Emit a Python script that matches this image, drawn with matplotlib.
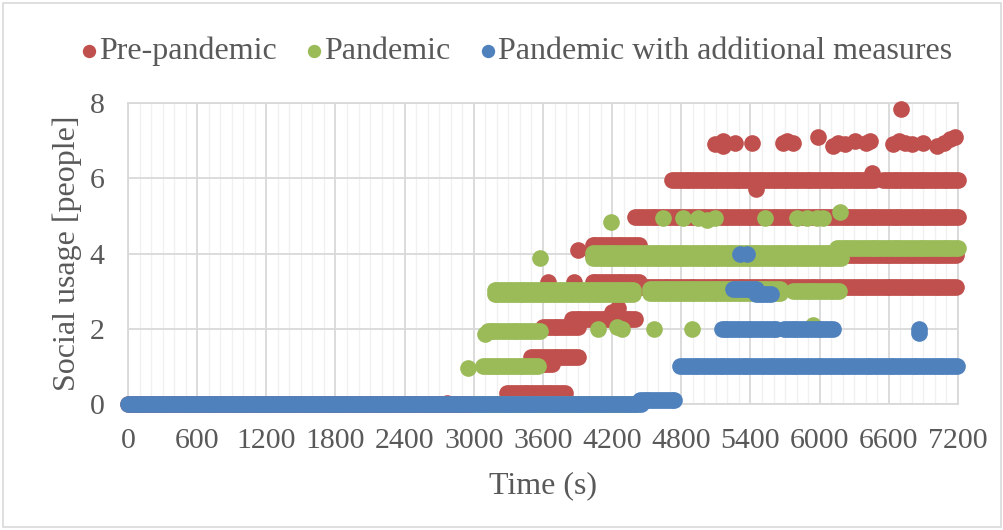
import numpy as np
import matplotlib
matplotlib.use("Agg")
import matplotlib.pyplot as plt
from matplotlib.patches import Rectangle

# ---------------- data ----------------
series_names = ["Pre-pandemic", "Pandemic", "Pandemic with additional measures"]
series_colors = ["#C0504D", "#9BBB59", "#4F81BD"]

# continuous runs of observations: start time, end time, value
pre_run_start = [0, 3290, 3480, 3500, 3600, 3850, 4030, 4030, 4030, 4030, 4400, 4720, 6550]
pre_run_end   = [4400, 3800, 3700, 3900, 3900, 4400, 4450, 7200, 7200, 4450, 7200, 6480, 7200]
pre_run_value = [0.0, 0.3, 1.05, 1.25, 2.05, 2.25, 3.25, 3.1, 3.97, 4.22, 4.97, 5.95, 5.95]
# isolated observations
pre_pt_time  = [2770, 3640, 3870, 3900, 4200, 4250, 5450, 6450,
                5090, 5160, 5160, 5265, 5415, 5680, 5720, 5770, 5985, 6115, 6160,
                6220, 6306, 6400, 6436, 6636, 6690, 6740, 6800, 6896, 7018, 7080,
                7130, 7174, 6706]
pre_pt_value = [0.02, 3.25, 3.25, 4.1, 2.45, 2.55, 5.72, 6.15,
                6.9, 6.85, 7.0, 6.95, 6.95, 6.95, 7.0, 6.95, 7.1, 6.85, 6.95,
                6.9, 7.0, 6.95, 7.0, 6.9, 7.0, 6.95, 6.9, 6.95, 6.85, 6.95,
                7.05, 7.1, 7.84]

pan_run_start = [3000, 3080, 3120, 3180, 3180, 4530, 4530, 5770, 4035, 4035, 6150]
pan_run_end   = [4400, 3570, 3580, 4380, 4380, 5660, 5660, 6175, 6200, 6200, 7200]
pan_run_value = [0.0, 1.0, 1.95, 2.92, 3.02, 2.95, 3.05, 3.0, 3.88, 4.02, 4.15]
pan_pt_time  = [2950, 3100, 4080, 4240, 4285, 4560, 4890, 5940, 3575,
                4190, 4641, 4814, 4944, 5022, 5092, 5526, 5803, 5890, 5977,
                6029, 6176]
pan_pt_value = [0.95, 1.85, 2.0, 2.05, 2.0, 2.0, 2.0, 2.1, 3.87,
                4.84, 4.95, 4.95, 4.95, 4.9, 4.95, 4.95, 4.95, 4.95, 4.95,
                4.95, 5.1]

meas_run_start = [0, 4440, 4790, 5150, 5690, 5250, 5450]
meas_run_end   = [4450, 4760, 7200, 5630, 6130, 5450, 5580]
meas_run_value = [0.0, 0.1, 1.0, 2.0, 2.0, 3.05, 2.92]
meas_pt_time  = [6860, 6860, 5310, 5370]
meas_pt_value = [2.0, 1.9, 4.0, 3.98]

x_ticks = [0, 600, 1200, 1800, 2400, 3000, 3600, 4200, 4800, 5400, 6000, 6600, 7200]
y_ticks = [0, 2, 4, 6, 8]


def expand(starts, ends, values, pt_t, pt_v, step=25):
    xs, ys = [], []
    for s, e, v in zip(starts, ends, values):
        t = np.arange(s, e + 1, step)
        xs.append(t)
        ys.append(np.full(t.shape, v, dtype=float))
    xs.append(np.array(pt_t, dtype=float))
    ys.append(np.array(pt_v, dtype=float))
    return np.concatenate(xs), np.concatenate(ys)


series = [
    expand(pre_run_start, pre_run_end, pre_run_value, pre_pt_time, pre_pt_value),
    expand(pan_run_start, pan_run_end, pan_run_value, pan_pt_time, pan_pt_value),
    expand(meas_run_start, meas_run_end, meas_run_value, meas_pt_time, meas_pt_value),
]

# ---------------- figure ----------------
plt.rcParams['font.family'] = ['Liberation Serif', 'DejaVu Serif']
text_color = "#595959"
grid_major = "#d9d9d9"
grid_minor = "#f0f0f0"

fig = plt.figure(figsize=(10.04, 5.30), dpi=100)
ax = fig.add_axes([128 / 1004, 1 - 404 / 530, (958 - 128) / 1004, (404 - 103) / 530])

for (xs, ys), name, col in zip(series, series_names, series_colors):
    ax.scatter(xs, ys, s=144, color=col, linewidths=0, label=name,
               clip_on=False, zorder=3)

ax.set_xlim(0, 7200)
ax.set_ylim(0, 8)
ax.set_xticks(x_ticks)
ax.set_xticklabels([str(t) for t in x_ticks])
ax.set_yticks(y_ticks)
ax.set_xticks(np.arange(0, 7201, 100), minor=True)
ax.grid(which='major', axis='both', color=grid_major, linewidth=1.3, zorder=0)
ax.grid(which='minor', axis='x', color=grid_minor, linewidth=1.0, zorder=0)
ax.set_axisbelow(True)
ax.tick_params(which='both', length=0, labelsize=21.5, colors=text_color)
ax.tick_params(axis='x', pad=17)
ax.tick_params(axis='y', pad=17)
for sp in ax.spines.values():
    sp.set_color(grid_major)
    sp.set_linewidth(1.3)

ax.set_xlabel("Time (s)", fontsize=23, color=text_color, labelpad=13)
ax.set_ylabel("Social usage [people]", fontsize=23, color=text_color, labelpad=5)

leg = fig.legend(loc='upper center', bbox_to_anchor=(0.509, 0.955), ncol=3,
                 frameon=False, fontsize=23, handletextpad=-0.27,
                 columnspacing=0.55, markerscale=0.8, scatterpoints=1,
                 borderaxespad=0.0, handlelength=1.2)
for t in leg.get_texts():
    t.set_color(text_color)

fig.patches.append(Rectangle((3 / 1004, 3 / 530), 998 / 1004, 524 / 530,
                             transform=fig.transFigure, fill=False,
                             edgecolor=grid_major, linewidth=1.2))

fig.savefig("out.png", dpi=100)
